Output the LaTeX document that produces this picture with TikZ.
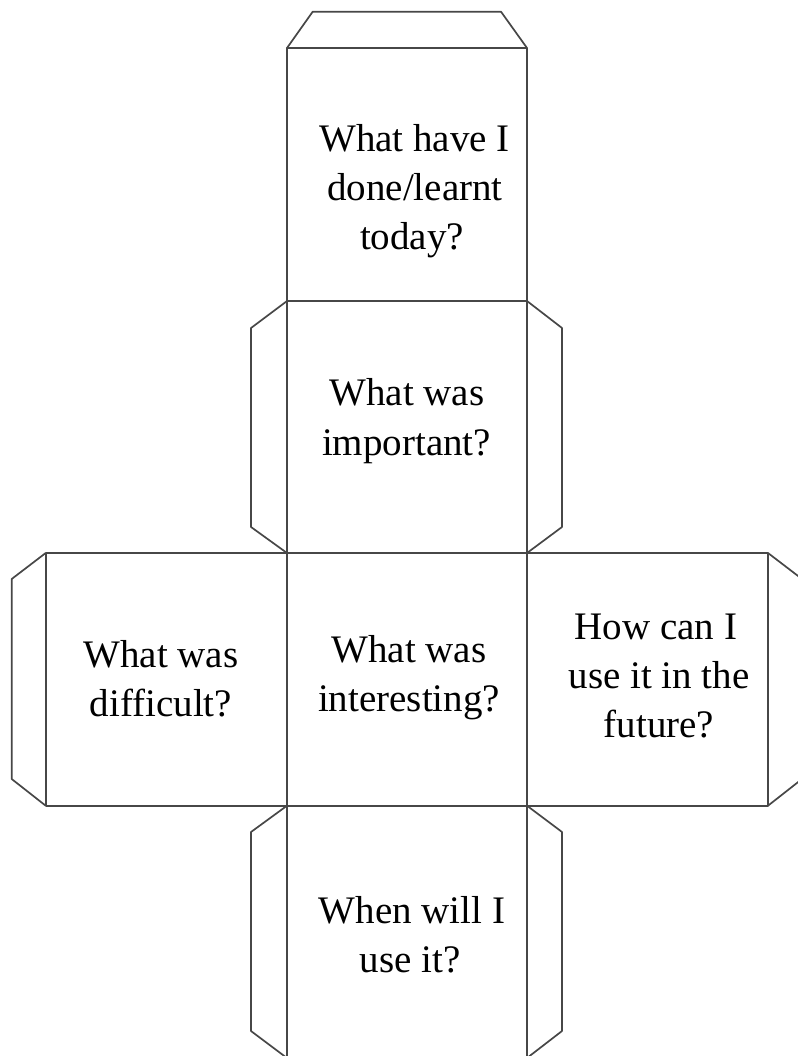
\documentclass[tikz,border=0pt]{standalone}
\usepackage{fontspec}
\setmainfont{Liberation Serif}
\begin{document}
\begin{tikzpicture}[x=1pt,y=-1pt,
  netline/.style={draw=black!72,line width=1.7pt,line join=round},
  facetext/.style={anchor=base,inner sep=0pt,font=\fontsize{39}{49}\selectfont}]
\useasboundingbox (0,0) rectangle (797,1056);
% column of faces
\draw[netline] (287,48) rectangle (527,1060);
\draw[netline] (287,301) -- (527,301);
\draw[netline] (45.7,553) rectangle (768,805.7);
\draw[netline] (287,553) -- (287,805.7) (527,553) -- (527,805.7);
% top tab
\draw[netline] (287,48) -- (312.7,11.7) -- (501,11.7) -- (527,48);
% tabs of second face
\draw[netline] (287,301) -- (251,328) -- (251,527) -- (287,553);
\draw[netline] (527,301) -- (562,328) -- (562,527) -- (527,553);
% tabs of side faces
\draw[netline] (45.7,553) -- (11.7,579) -- (11.7,779) -- (45.7,805.7);
\draw[netline] (768,553) -- (802,579) -- (802,779) -- (768,805.7);
% tabs of bottom face
\draw[netline] (287,805.7) -- (251,832) -- (251,1031) -- (287,1058);
\draw[netline] (527,805.7) -- (562,832) -- (562,1031) -- (527,1058);
% texts
\node[facetext] (t1) at (414.5,152) {What have I};
\node[facetext] (t2) at (415,201) {done/learnt};
\node[facetext] (t3) at (412,250) {today?};
\node[facetext] (i1) at (407,405) {What was};
\node[facetext] (i2) at (406.5,455) {important?};
\node[facetext] (d1) at (161,667) {What was};
\node[facetext] (d2) at (161,716) {difficult?};
\node[facetext] (c1) at (409,662) {What was};
\node[facetext] (c2) at (409,711) {interesting?};
\node[facetext] (f1) at (656,639) {How can I};
\node[facetext] (f2) at (659,688) {use it in the};
\node[facetext] (f3) at (659,737) {future?};
\node[facetext] (w1) at (412,923) {When will I};
\node[facetext] (w2) at (410,972) {use it?};
\end{tikzpicture}
\end{document}
